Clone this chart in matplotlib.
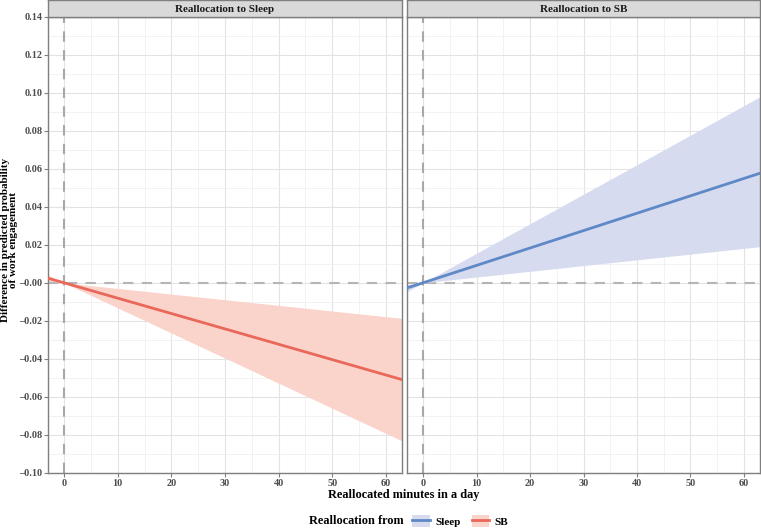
import numpy as np
import matplotlib.pyplot as plt
from matplotlib.patches import Patch
from matplotlib.lines import Line2D
from matplotlib.ticker import MultipleLocator

plt.rcParams['font.family'] = ['Liberation Serif', 'DejaVu Serif']
plt.rcParams['font.weight'] = 'bold'

# data
minutes = [-3, 0, 63]
# reallocation to Sleep (from SB)
sb_est = [0.0024, 0.0, -0.0509]
sb_lo = [0.0040, 0.0, -0.0831]
sb_hi = [0.0009, 0.0, -0.0187]
# reallocation to SB (from Sleep)
sleep_est = [-0.0027, 0.0, 0.0576]
sleep_lo = [-0.0009, 0.0, 0.0190]
sleep_hi = [-0.0047, 0.0, 0.0978]

panel_titles = ['Reallocation to Sleep', 'Reallocation to SB']
red, red_fill = '#E9685A', '#FAD3CA'
blue, blue_fill = '#5F89C6', '#D6DBF0'

fig = plt.figure(figsize=(7.61, 5.30), dpi=100)
W, H = 761, 530
y_top, y_bot = 16.5, 473
panels = [(48, 402), (407, 760)]

axes = []
for i, (x0, x1) in enumerate(panels):
    ax = fig.add_axes([x0 / W, 1 - y_bot / H, (x1 - x0) / W, (y_bot - y_top) / H])
    axes.append(ax)
    ax.set_xlim(-3, 63)
    ax.set_ylim(-0.10, 0.14)
    ax.xaxis.set_major_locator(MultipleLocator(10))
    ax.xaxis.set_minor_locator(MultipleLocator(5))
    ax.yaxis.set_major_locator(MultipleLocator(0.02))
    ax.yaxis.set_minor_locator(MultipleLocator(0.01))
    ax.grid(which='major', color='#E3E3E3', linewidth=0.8)
    ax.grid(which='minor', color='#F0F0F0', linewidth=0.6)
    ax.set_axisbelow(True)
    for s in ax.spines.values():
        s.set_color('#7F7F7F')
        s.set_linewidth(1.0)
    ax.tick_params(which='major', length=3, pad=1.0, color='#7F7F7F', labelsize=7.4,
                   labelcolor='#4D4D4D')
    ax.tick_params(which='minor', length=0)
    ax.axvline(0, color='#A8A8A8', linestyle=(0, (5, 4)), linewidth=1.5, zorder=1)
    ax.axhline(0, color='#B5B5B5', linestyle=(0, (5, 4)), linewidth=1.5, zorder=1)

    # strip
    sax = fig.add_axes([x0 / W, 1 - y_top / H, (x1 - x0) / W, y_top / H])
    sax.set_xticks([])
    sax.set_yticks([])
    sax.set_facecolor('#D9D9D9')
    for s in sax.spines.values():
        s.set_color('#7F7F7F')
        s.set_linewidth(1.0)
    sax.text(0.5, 0.45, panel_titles[i], ha='center', va='center', fontsize=8,
             fontweight='bold', color='#1A1A1A', transform=sax.transAxes)

ax1, ax2 = axes
ax1.fill_between(minutes, sb_lo, sb_hi, color=red_fill, linewidth=0, zorder=2)
ax1.plot(minutes, sb_est, color=red, linewidth=2, zorder=3)
ax2.fill_between(minutes, sleep_lo, sleep_hi, color=blue_fill, linewidth=0, zorder=2)
ax2.plot(minutes, sleep_est, color=blue, linewidth=2, zorder=3)

ax1.yaxis.set_major_formatter(plt.FuncFormatter(lambda v, p: f'{v:.2f}'.replace('-', '\u2013')))
ax2.tick_params(axis='y', labelleft=False, length=0)

fig.text(9.5 / W, 1 - 240 / H, 'Difference in predicted probability\nof work engagement',
         rotation=90, ha='center', va='center', fontsize=8.0, fontweight='bold',
         linespacing=0.9)
fig.text(404 / W, 1 - 495 / H, 'Reallocated minutes in a day', ha='center', va='center',
         fontsize=8.8, fontweight='bold')

# legend
fig.text(404 / W, 1 - 521 / H, 'Reallocation from', ha='right', va='center',
         fontsize=8.8, fontweight='bold')
handles = [(Patch(facecolor=blue_fill, edgecolor='none'), Line2D([], [], color=blue, linewidth=2)),
           (Patch(facecolor=red_fill, edgecolor='none'), Line2D([], [], color=red, linewidth=2))]
fig.legend(handles, ['Sleep', 'SB'], loc='center left', bbox_to_anchor=(404 / W, 1 - 521 / H),
           ncol=2, frameon=False, fontsize=8, handlelength=1.6, handleheight=1.4,
           handletextpad=0.5, columnspacing=1.0, borderpad=0.2)

fig.savefig('out.png', dpi=100)
